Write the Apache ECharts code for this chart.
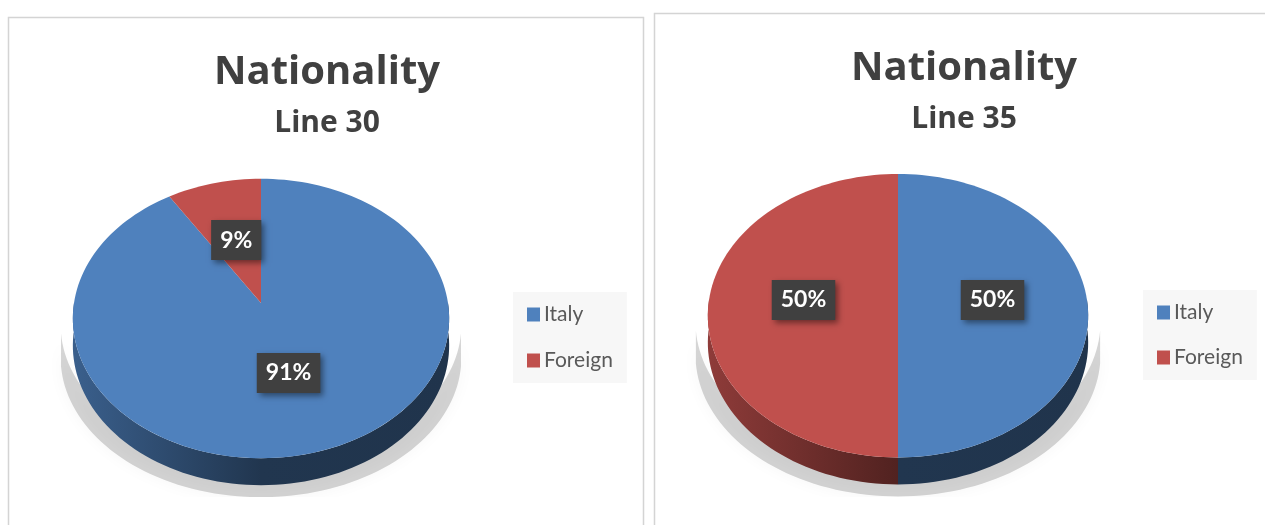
<!DOCTYPE html>
<html>
<head>
<meta charset="utf-8">
<title>Nationality</title>
<script src="https://cdn.jsdelivr.net/npm/echarts@6/dist/echarts.min.js"></script>
<style>
  html, body { margin: 0; padding: 0; background: #ffffff; }
  #chart { width: 1265px; height: 525px; }
</style>
</head>
<body>
<div id="chart"></div>
<script>
// ---- data ----
const categories = ['Italy', 'Foreign'];
const line30Share = [91, 9];
const line35Share = [50, 50];
const chartTitle = 'Nationality';
const panelTitles = ['Line 30', 'Line 35'];

// ---- styling ----
const sliceColors = ['#4f81bd', '#c0504d'];
const FONT = 'Lato, "Open Sans", sans-serif';
const TITLE_FONT = '"Open Sans", Lato, sans-serif';
const TILT = 0.111; // perspective: far edge is drawn smaller than near edge

// layout of the two pie panels
const panels = [
  { shares: line30Share, subtitle: panelTitles[0], cx: 261, cy: 303, rx: 187, ry: 138, depth: 27, floor: 497,
    titleX: 327, titleY: 73, subY: 123, legendLeft: 513, legendTop: 292, legendGap: 25,
    frame: { x: 8.5, y: 17.5, w: 635, h: 530 } },
  { shares: line35Share, subtitle: panelTitles[1], cx: 898, cy: 300, rx: 189, ry: 140, depth: 27, floor: 497,
    titleX: 964, titleY: 69, subY: 119, legendLeft: 1143, legendTop: 290, legendGap: 24,
    frame: { x: 654.5, y: 13.5, w: 640, h: 530 } }
];

function shade(hex, f) {
  const n = parseInt(hex.slice(1), 16);
  const r = Math.round(((n >> 16) & 255) * f);
  const g = Math.round(((n >> 8) & 255) * f);
  const b = Math.round((n & 255) * f);
  return 'rgb(' + r + ',' + g + ',' + b + ')';
}

// project a point of the unit disc (u to the right, v to the back) onto the screen
function project(p, u, v) {
  const w = 1 + TILT * v;
  return [p.cx + p.rx * u / w, p.cy - p.ry * v / w];
}

function arcPoints(p, a0, a1, r, dy) {
  const n = Math.max(2, Math.ceil(Math.abs(a1 - a0) / 2));
  const pts = [];
  for (let i = 0; i <= n; i++) {
    const a = (a0 + (a1 - a0) * i / n) * Math.PI / 180;
    const pt = project(p, r * Math.cos(a), r * Math.sin(a));
    pts.push([pt[0], pt[1] + dy]);
  }
  return pts;
}

function makePieSeries(p) {
  const total = p.shares.reduce((s, v) => s + v, 0);
  return {
    type: 'custom',
    name: p.subtitle,
    coordinateSystem: 'none',
    silent: true,
    data: p.shares.map((v, i) => ({ name: categories[i], value: v })),
    renderItem: function (params, api) {
      const idx = params.dataIndex;
      const value = api.value(0);
      let before = 0;
      for (let i = 0; i < idx; i++) before += p.shares[i];
      // slices run clockwise from 12 o'clock
      const start = 90 - 360 * before / total;
      const end = 90 - 360 * (before + value) / total;
      const color = sliceColors[idx];
      const children = [];

      if (idx === 0) {
        // soft floor shadow under the near half of the pie, cut at the floor line
        const sh = arcPoints(p, -10, -170, 1, 6).concat(arcPoints(p, -170, -10, 1, p.depth + 12))
          .map(pt => [p.cx + (pt[0] - p.cx) * 1.065, pt[1]]);
        children.push({
          type: 'polygon', z2: 0,
          shape: { points: sh },
          style: { fill: 'rgba(0,0,0,0.16)', shadowBlur: 16, shadowColor: 'rgba(0,0,0,0.25)' },
          clipPath: { type: 'rect', shape: { x: p.cx - p.rx - 60, y: p.cy - 40, width: 2 * p.rx + 120, height: p.floor - p.cy + 40 } }
        });
      }

      // visible outer wall: the near half of the rim (angles between -180 and 0, mod 360)
      const sideFill = {
        type: 'linear', global: true,
        x: p.cx - p.rx, y: 0, x2: p.cx + p.rx, y2: 0,
        colorStops: [
          { offset: 0, color: shade(color, 0.74) },
          { offset: 0.5, color: shade(color, 0.42) },
          { offset: 1, color: shade(color, 0.40) }
        ]
      };
      for (let k = -2; k <= 1; k++) {
        const lo = -180 + 360 * k, hi = 360 * k;
        const s = Math.max(end, lo), e = Math.min(start, hi);
        if (s < e) {
          const pts = arcPoints(p, e, s, 1, 0).concat(arcPoints(p, s, e, 1, p.depth));
          children.push({ type: 'polygon', z2: 1, shape: { points: pts }, style: { fill: sideFill } });
        }
      }

      // top face of the slice
      const top = [project(p, 0, 0)].concat(arcPoints(p, start, end, 1, 0));
      children.push({ type: 'polygon', z2: 2, shape: { points: top }, style: { fill: color } });

      // value label box
      const mid = (start + end) / 2 * Math.PI / 180;
      const lp = project(p, 0.5 * Math.cos(mid), 0.5 * Math.sin(mid));
      children.push({
        type: 'text', z2: 3,
        x: lp[0], y: lp[1],
        style: {
          text: Math.round(value / total * 100) + '%',
          font: 'bold 23px ' + FONT,
          fill: '#ffffff',
          align: 'center', verticalAlign: 'middle',
          backgroundColor: '#404040',
          padding: [9, 9, 8, 9],
          shadowBlur: 6, shadowColor: 'rgba(0,0,0,0.45)', shadowOffsetX: 3, shadowOffsetY: 3
        }
      });
      return { type: 'group', children: children };
    }
  };
}

// series used only to feed the legends
const legendSeries = categories.map((name, i) => ({
  type: 'custom', name: name, coordinateSystem: 'none', data: [],
  itemStyle: { color: sliceColors[i] },
  renderItem: function () { return null; }
}));

const graphics = [];
panels.forEach(p => {
  graphics.push({
    type: 'rect', z: -10, silent: true,
    shape: { x: p.frame.x, y: p.frame.y, width: p.frame.w, height: p.frame.h },
    style: { fill: '#ffffff', stroke: '#d4d4d4', lineWidth: 1.5 }
  });
  graphics.push({
    type: 'text', silent: true, x: p.titleX, y: p.titleY,
    style: { text: chartTitle, font: 'bold 40px ' + TITLE_FONT, fill: '#404040', align: 'center', verticalAlign: 'middle' }
  });
  graphics.push({
    type: 'text', silent: true, x: p.titleX, y: p.subY,
    style: { text: p.subtitle, font: 'bold 30px ' + TITLE_FONT, fill: '#404040', align: 'center', verticalAlign: 'middle' }
  });
});

const legends = panels.map(p => ({
  orient: 'vertical',
  left: p.legendLeft, top: p.legendTop,
  padding: [12, 14, 12, 14],
  backgroundColor: '#f7f7f7',
  icon: 'rect', itemWidth: 13, itemHeight: 14, itemGap: p.legendGap,
  selectedMode: false,
  textStyle: { fontFamily: FONT, fontSize: 21, color: '#595959', padding: [0, 0, 0, -1] },
  data: categories.map((c, i) => ({ name: c, itemStyle: { color: sliceColors[i] } }))
}));

const chart = echarts.init(document.getElementById('chart'), null, { renderer: 'canvas' });
chart.setOption({
  backgroundColor: '#ffffff',
  animation: false,
  legend: legends,
  graphic: graphics,
  series: panels.map(makePieSeries).concat(legendSeries)
});
</script>
</body>
</html>
